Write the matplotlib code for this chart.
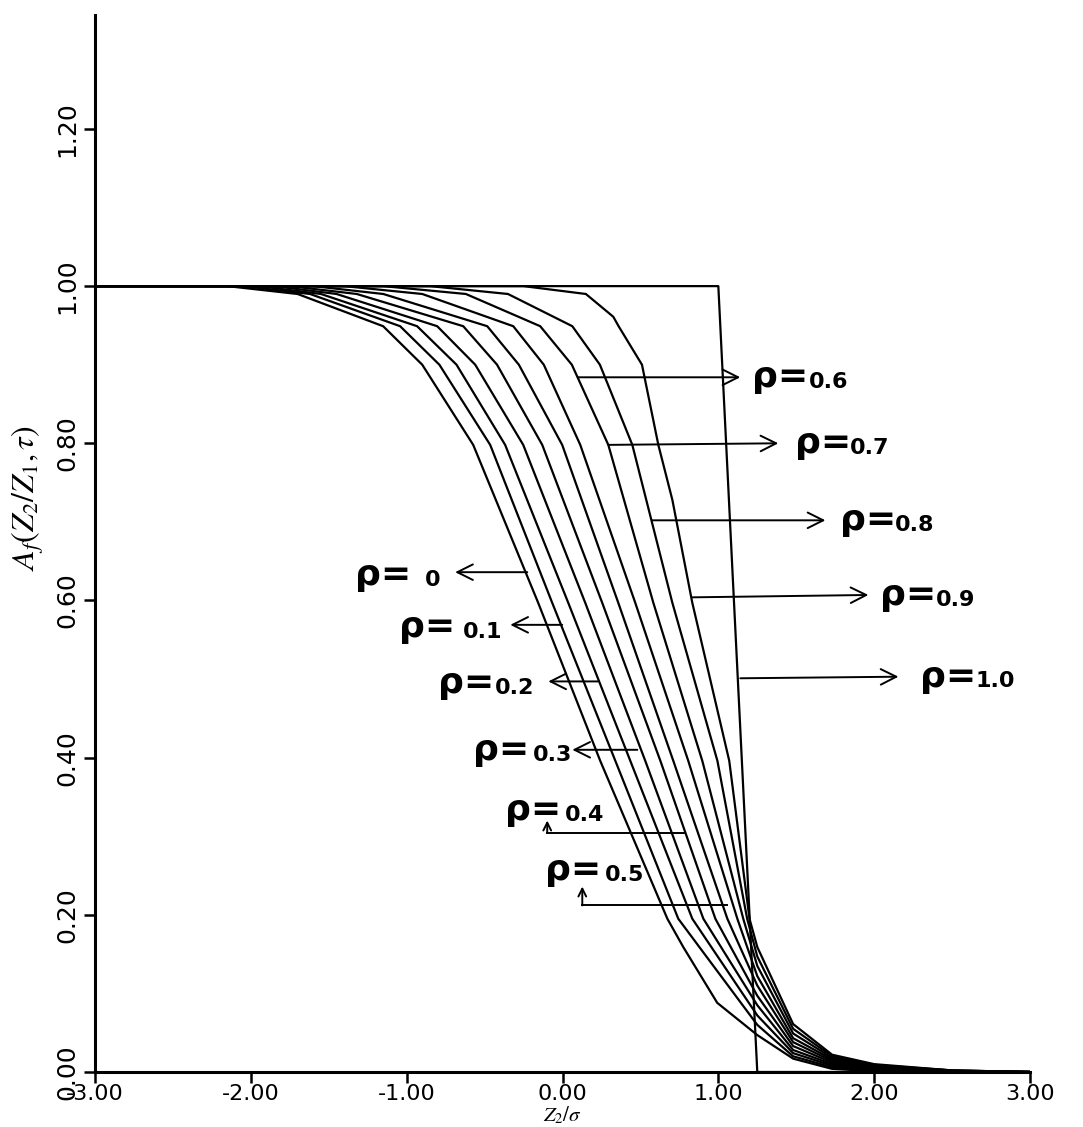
import numpy as np
import matplotlib.pyplot as plt
from matplotlib import font_manager

plt.rcParams['axes.unicode_minus'] = False
plt.rcParams['mathtext.fontset'] = 'stix'

rho_values = [0.0, 0.1, 0.2, 0.3, 0.4, 0.5, 0.6, 0.7, 0.8, 0.9]

# Z2/sigma where each curve leaves the A=1 line
z_depart = [-2.15, -2.05, -1.95, -1.85, -1.75, -1.60, -1.40, -1.15, -0.85, -0.25]

# Z2/sigma at which each curve crosses the given A level
level_y = [0.99, 0.949, 0.90, 0.798, 0.597, 0.396, 0.195]
z_099 = [-1.70, -1.62, -1.55, -1.45, -1.32, -1.15, -0.90, -0.62, -0.35, 0.15]
z_095 = [-1.151, -1.042, -0.933, -0.804, -0.637, -0.483, -0.316, -0.143, 0.063, 0.360]
z_090 = [-0.90, -0.79, -0.68, -0.56, -0.42, -0.28, -0.12, 0.06, 0.24, 0.51]
z_080 = [-0.573, -0.464, -0.368, -0.252, -0.130, -0.002, 0.114, 0.294, 0.448, 0.615]
z_060 = [-0.156, -0.066, 0.037, 0.146, 0.255, 0.358, 0.467, 0.583, 0.705, 0.833]
z_040 = [0.242, 0.339, 0.435, 0.531, 0.628, 0.711, 0.807, 0.897, 0.994, 1.070]
z_020 = [0.673, 0.743, 0.833, 0.904, 0.981, 1.058, 1.122, 1.160, 1.185, 1.200]
level_z = [z_099, z_095, z_090, z_080, z_060, z_040, z_020]

# tails: A values at fixed Z2/sigma
tail_z = [1.25, 1.48, 1.73, 2.0, 2.5, 3.0]
tail_a = [
    [0.047, 0.017, 0.004, 0.001, 0.0, 0.0],
    [0.060, 0.020, 0.006, 0.002, 0.0, 0.0],
    [0.072, 0.024, 0.008, 0.003, 0.0, 0.0],
    [0.085, 0.028, 0.010, 0.004, 0.0, 0.0],
    [0.097, 0.033, 0.012, 0.005, 0.001, 0.0],
    [0.110, 0.038, 0.014, 0.006, 0.001, 0.0],
    [0.122, 0.043, 0.016, 0.007, 0.001, 0.0],
    [0.135, 0.049, 0.018, 0.008, 0.002, 0.0],
    [0.147, 0.055, 0.020, 0.009, 0.002, 0.0],
    [0.159, 0.061, 0.022, 0.010, 0.002, 0.0],
]
# extra points seen on rho = 0 and rho = 0.9
extra_pts = {0: [(0.775, 0.159), (0.993, 0.088)], 9: [(0.326, 0.961), (0.705, 0.728)]}

# rho = 1.0: step-like line
step_z = [-3.0, 1.0, 1.25, 3.0]
step_a = [1.0, 1.0, 0.0, 0.0]

# labels: (text, x of rho, x of value, y, arrow tail, arrow head)
labels_right = [
    ('0.6', 1.218, 1.578, 0.884, (0.101, 0.884), (1.141, 0.884)),
    ('0.7', 1.494, 1.847, 0.800, (0.294, 0.798), (1.385, 0.800)),
    ('0.8', 1.783, 2.136, 0.702, (0.576, 0.702), (1.687, 0.702)),
    ('0.9', 2.040, 2.393, 0.607, (0.833, 0.604), (1.963, 0.607)),
    ('1.0', 2.297, 2.650, 0.503, (1.141, 0.501), (2.156, 0.503)),
]
labels_left = [
    ('0', -1.330, -0.881, 0.632, (-0.226, 0.636), (-0.689, 0.636)),
    ('0.1', -1.050, -0.637, 0.566, (-0.002, 0.569), (-0.335, 0.569)),
    ('0.2', -0.800, -0.432, 0.495, (0.230, 0.497), (-0.091, 0.497)),
    ('0.3', -0.573, -0.188, 0.410, (0.480, 0.410), (0.063, 0.410)),
]
# bent arrows for 0.4 and 0.5: text, x rho, x value, y text, line from, corner, head
labels_bent = [
    ('0.4', -0.368, 0.018, 0.333, (0.782, 0.304), (-0.098, 0.304), (-0.098, 0.320)),
    ('0.5', -0.111, 0.270, 0.257, (1.058, 0.212), (0.127, 0.212), (0.127, 0.236)),
]

fig = plt.figure(figsize=(10.83, 11.27), dpi=100)
ax = fig.add_axes([95 / 1083, 1 - 1072 / 1127, 935 / 1083, 1057 / 1127])

lw = 1.6
for i, rho in enumerate(rho_values):
    pts = [(-3.0, 1.0), (z_depart[i], 1.0)]
    for ly, lz in zip(level_y, level_z):
        pts.append((lz[i], ly))
    pts += extra_pts.get(i, [])
    last_z = z_020[i]
    for tz, ta in zip(tail_z, tail_a[i]):
        if tz > last_z:
            pts.append((tz, ta))
    pts.sort(key=lambda p: p[0])
    xs, ys = zip(*pts)
    ax.plot(xs, ys, color='black', lw=lw)

ax.plot(step_z, step_a, color='black', lw=lw)

big = 26
small = 16
arrow_kw = dict(arrowstyle='->', lw=1.4, color='black', mutation_scale=28,
                shrinkA=0, shrinkB=0)

def put_label(val, x_rho, x_val, y):
    ax.text(x_rho, y, 'ρ=', fontsize=big, fontweight='bold', ha='left', va='center')
    ax.text(x_val, y - 0.006, val, fontsize=small, fontweight='bold', ha='left', va='center')

for val, xr, xv, y, tail, head in labels_right + labels_left:
    put_label(val, xr, xv, y)
    ax.annotate('', xy=head, xytext=tail, arrowprops=arrow_kw)

for val, xr, xv, y, start, corner, head in labels_bent:
    put_label(val, xr, xv, y)
    ax.plot([start[0], corner[0]], [start[1], corner[1]], color='black', lw=1.4)
    ax.annotate('', xy=head, xytext=corner,
                arrowprops=dict(arrowstyle='->', lw=1.4, color='black',
                                mutation_scale=14, shrinkA=0, shrinkB=0))

ax.set_xlim(-3, 3)
ax.set_ylim(0, 1.345)
ax.spines['top'].set_visible(False)
ax.spines['right'].set_visible(False)
for s in ['left', 'bottom']:
    ax.spines[s].set_linewidth(2.2)

xt = [-3, -2, -1, 0, 1, 2, 3]
yt = [0.0, 0.2, 0.4, 0.6, 0.8, 1.0, 1.2]
ax.set_xticks(xt)
ax.set_yticks(yt)

names = {f.name for f in font_manager.fontManager.ttflist}
xfont = 'Liberation Sans Narrow' if 'Liberation Sans Narrow' in names else 'DejaVu Sans'
ax.set_xticklabels([f'{v:.2f}' for v in xt], fontsize=16, family=xfont)
ax.set_yticklabels([f'{v:.2f}' for v in yt], fontsize=18, rotation=90, va='center')
ax.tick_params(axis='y', direction='out', length=8, width=1.8, pad=3)
ax.tick_params(axis='x', direction='out', length=8, width=1.8, pad=1)

ax.set_xlabel(r'$Z_2/\sigma$', fontsize=15)
ax.xaxis.set_label_coords(0.5, -0.031)
ax.set_ylabel(r'$A_f(Z_2/Z_1,\tau)$', fontsize=23)
ax.yaxis.set_label_coords(-0.052, 0.543)

fig.savefig('out.png', dpi=100)
